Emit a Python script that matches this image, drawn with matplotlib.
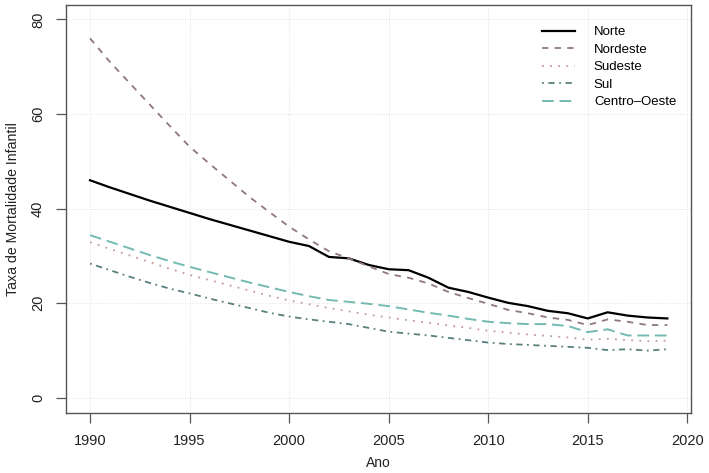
import numpy as np
import matplotlib
matplotlib.use('Agg')
import matplotlib.pyplot as plt

plt.rcParams['font.family'] = ['Liberation Sans', 'DejaVu Sans']

#==============================================================================
# Data
#==============================================================================
anos = list(range(1990, 2020))

norte = [46.0, 44.5, 43.1, 41.7, 40.4, 39.1, 37.8, 36.6, 35.4, 34.2,
         33.0, 32.1, 29.8, 29.5, 28.1, 27.2, 27.0, 25.4, 23.3, 22.4,
         21.2, 20.1, 19.4, 18.4, 17.9, 16.8, 18.1, 17.4, 17.0, 16.8]

nordeste = [76.0, 71.0, 66.5, 62.0, 57.5, 53.1, 49.5, 46.0, 42.5, 39.3,
            36.2, 33.5, 31.0, 29.5, 27.8, 26.2, 25.4, 24.2, 22.4, 21.1,
            19.9, 18.6, 17.9, 17.0, 16.5, 15.4, 16.6, 16.1, 15.4, 15.4]

sudeste = [32.9, 31.5, 30.1, 28.7, 27.3, 26.0, 24.9, 23.8, 22.7, 21.6,
           20.6, 19.8, 19.0, 18.3, 17.6, 17.0, 16.4, 15.9, 15.3, 14.8,
           14.2, 13.8, 13.4, 13.1, 12.8, 12.3, 12.5, 12.2, 12.0, 12.1]

sul = [28.4, 27.0, 25.6, 24.3, 23.1, 22.1, 21.0, 20.0, 19.0, 18.0,
       17.2, 16.6, 16.1, 15.6, 14.8, 14.0, 13.6, 13.2, 12.7, 12.2,
       11.7, 11.4, 11.2, 11.0, 10.8, 10.6, 10.1, 10.3, 10.0, 10.3]

centro_oeste = [34.4, 33.0, 31.6, 30.2, 28.9, 27.7, 26.6, 25.5, 24.4, 23.4,
                22.4, 21.5, 20.7, 20.3, 19.9, 19.4, 18.7, 18.0, 17.4, 16.7,
                16.1, 15.8, 15.6, 15.6, 15.2, 13.9, 14.5, 13.2, 13.2, 13.2]

x_ticks = [1990, 1995, 2000, 2005, 2010, 2015, 2020]
y_ticks = [0, 20, 40, 60, 80]

#==============================================================================
# PLOTTING
#==============================================================================
fig = plt.figure(figsize=(7.09, 4.73), dpi=100)
ax = fig.add_axes([0.093, 0.127, 0.882, 0.862])

ax.plot(anos, norte, color='black', lw=1.6, label='Norte')
ax.plot(anos, nordeste, color='#8f7683', lw=1.3, dashes=(3.5, 3.5),
        label='Nordeste')
ax.plot(anos, sudeste, color='#c29aa0', lw=1.3, dashes=(1, 3.5),
        label='Sudeste')
ax.plot(anos, sul, color='#5a807e', lw=1.3, dashes=(1, 2.5, 3.5, 2.5),
        label='Sul')
ax.plot(anos, centro_oeste, color='#74bab3', lw=1.4, dashes=(6, 3),
        label='Centro\u2013Oeste')

ax.set_xlim(1988.79, 2020.2)
ax.set_ylim(-3.17, 83.0)
ax.set_xticks(x_ticks)
ax.set_yticks(y_ticks)
ax.set_yticklabels([str(v) for v in y_ticks], rotation=90, va='center')

ax.grid(True, color='#e2e2e2', lw=0.7, ls=':')
for s in ax.spines.values():
    s.set_color('#555555')
    s.set_linewidth(1.0)
ax.tick_params(axis='both', colors='#555555', labelcolor='#222222',
               length=7, width=0.9, labelsize=10.5, pad=8)

ax.set_xlabel('Ano', fontsize=10, color='#222222', labelpad=6)
ax.set_ylabel('Taxa de Mortalidade Infantil', fontsize=10.2,
              color='#222222', labelpad=8)

leg = ax.legend(loc='upper right', bbox_to_anchor=(0.995, 0.978),
                frameon=False, fontsize=9.5, handlelength=2.5,
                handletextpad=1.4, labelspacing=0.4)

fig.savefig('out.png', dpi=100)
